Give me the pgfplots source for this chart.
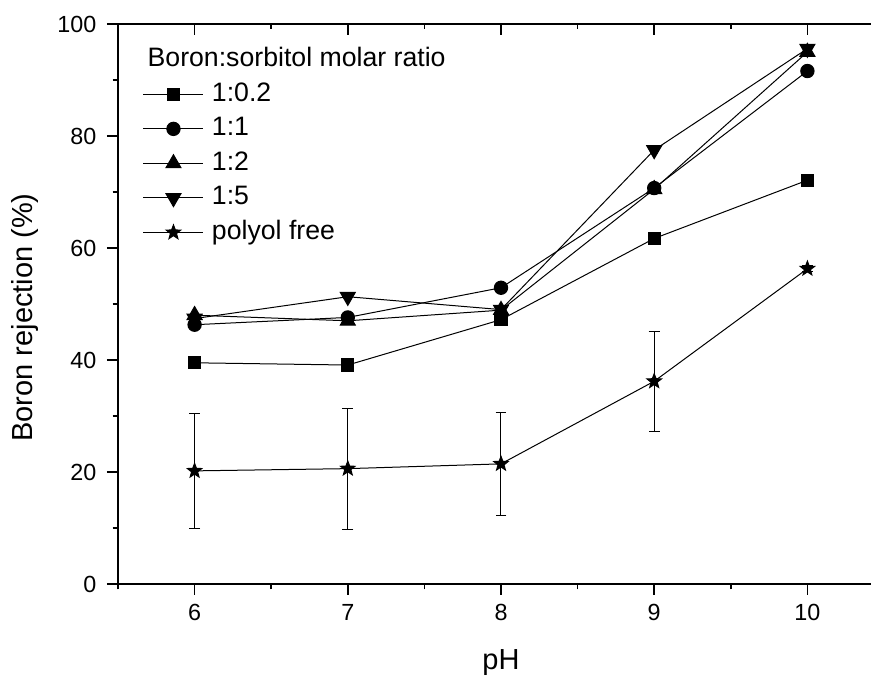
\documentclass[border=0pt]{standalone}
\usepackage{fontspec}
\setmainfont{Liberation Sans}
\usepackage{pgfplots}
\pgfplotsset{compat=1.18}

\pgfdeclareplotmark{fstar}{%
  \pgfpathmoveto{\pgfpointpolar{90}{\pgfplotmarksize}}%
  \pgfpathlineto{\pgfpointpolar{126}{0.42\pgfplotmarksize}}%
  \pgfpathlineto{\pgfpointpolar{162}{\pgfplotmarksize}}%
  \pgfpathlineto{\pgfpointpolar{198}{0.42\pgfplotmarksize}}%
  \pgfpathlineto{\pgfpointpolar{234}{\pgfplotmarksize}}%
  \pgfpathlineto{\pgfpointpolar{270}{0.42\pgfplotmarksize}}%
  \pgfpathlineto{\pgfpointpolar{306}{\pgfplotmarksize}}%
  \pgfpathlineto{\pgfpointpolar{342}{0.42\pgfplotmarksize}}%
  \pgfpathlineto{\pgfpointpolar{18}{\pgfplotmarksize}}%
  \pgfpathlineto{\pgfpointpolar{54}{0.42\pgfplotmarksize}}%
  \pgfpathclose
  \pgfusepathqfillstroke}

\pgfplotstableread{
x y
6 39.5
7 39.1
8 47.2
9 61.7
10 72.1
}\sqdata
\pgfplotstableread{
x y
6 46.3
7 47.6
8 52.9
9 70.7
10 91.6
}\circdata
\pgfplotstableread{
x y
6 48.0
7 47.0
8 48.9
9 70.5
10 95.0
}\tridata
\pgfplotstableread{
x y
6 47.4
7 51.3
8 49.0
9 77.5
10 95.6
}\tridowndata
\pgfplotstableread{
x y e
6 20.2 10.3
7 20.6 10.8
8 21.45 9.25
9 36.2 8.9
10 56.3 0.5
}\freedata

\begin{document}
\begin{tikzpicture}
\pgfplotsset{
  common/.style={
    scale only axis, width=574.5pt, height=420pt,
    xmin=5.5, xmax=10.5, ymin=0, ymax=100,
    xtick={6,7,8,9,10}, ytick={0,20,40,60,80,100},
    minor xtick={5.5,6.5,7.5,8.5,9.5,10.5},
    minor ytick={10,30,50,70,90},
    axis line style={-, line width=1.2pt, black},
    major tick length=8.25pt, minor tick length=4.1pt,
    major tick style={line width=1.2pt, black},
    minor tick style={line width=1.2pt, black},
    /pgf/number format/assume math mode=true,
    tick label style={font=\fontsize{17.5}{21}\selectfont, black},
  }
}
\begin{axis}[common, name=ax,
  axis x line*=bottom, axis y line*=left, tick align=outside,
  yticklabel style={xshift=-4.5pt},
  xticklabel style={yshift=-3.5pt},
  xlabel={pH}, ylabel={Boron rejection (\%)},
  every axis x label/.style={at={(axis description cs:0.5,-0.152)}, anchor=base, font=\fontsize{21.75}{26}\selectfont},
  every axis y label/.style={at={(axis description cs:-0.111,0.476)}, rotate=90, anchor=base, font=\fontsize{21.75}{26}\selectfont},
  legend style={at={(rel axis cs:0.0326,0.8964)}, anchor=north west, draw=none, fill=none,
    inner sep=0pt, outer sep=0pt, font=\fontsize{20}{24}\selectfont,
    nodes={inner sep=0pt, text height=14.5pt, text depth=4pt},
    row sep=7.4pt, /tikz/every odd column/.append style={column sep=6pt}},
  legend cell align=left,
  legend image code/.code={\draw[mark repeat=2,mark phase=2,#1] plot coordinates {(0pt,0pt) (22.5pt,0pt) (45pt,0pt)};},
  every axis plot/.append style={line width=0.75pt, black},
]
\addplot[black, mark=square*, mark size=4.6pt, mark options={solid, fill=black}] table[x=x,y=y] {\sqdata};
\addlegendentry{1:0.2}
\addplot[black, mark=*, mark size=5pt, mark options={solid, fill=black}] table[x=x,y=y] {\circdata};
\addlegendentry{1:1}
\addplot[black, mark=triangle*, mark size=6.5pt, mark options={solid, fill=black}] table[x=x,y=y] {\tridata};
\addlegendentry{1:2}
\addplot[black, mark=triangle*, mark size=6.5pt, mark options={solid, fill=black, rotate=180}] table[x=x,y=y] {\tridowndata};
\addlegendentry{1:5}
\addplot[black, mark=fstar, mark size=5.7pt, mark options={solid, fill=black},
  error bars/.cd, y dir=both, y explicit,
  error bar style={line width=0.75pt, black},
  error mark options={rotate=90, mark size=4.1pt, line width=0.75pt, black}]
  table[x=x,y=y,y error=e] {\freedata};
\addlegendentry{polyol free}
\node[anchor=base west, font=\fontsize{20}{24}\selectfont] at (rel axis cs:0.0326,0.924) {Boron:sorbitol molar ratio};
\end{axis}
\begin{axis}[common,
  axis x line*=top, axis y line*=right, tick align=inside,
  xticklabels={}, yticklabels={},
]
\end{axis}
\pgfresetboundingbox
\path ([shift={(-88.5pt,-69.75pt)}]ax.south west) rectangle ([shift={(564.75pt,438pt)}]ax.south west);
\end{tikzpicture}
\end{document}
